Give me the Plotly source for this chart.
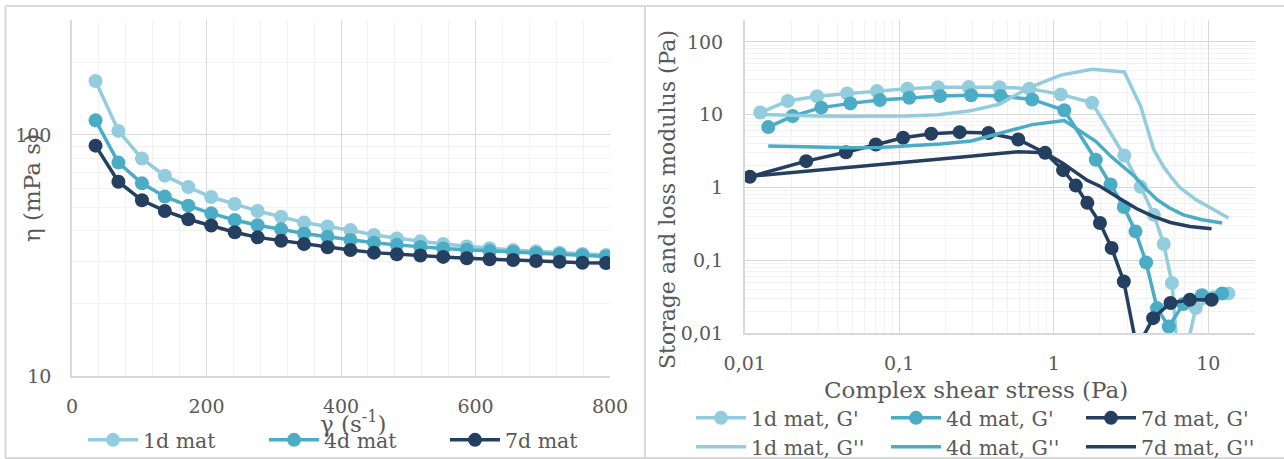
import plotly.graph_objects as go

# ---------------- data: left chart (viscosity curves) ----------------
shear_rate = [35, 69, 104, 138, 173, 207, 242, 276, 311, 345, 380, 414,
              449, 483, 518, 552, 587, 621, 656, 690, 725, 759, 794]
eta_1d = [167.5, 104, 79.8, 67.8, 60.8, 55.3, 51.7, 48.4, 45.8, 43.3, 41.7, 40.3,
          38.5, 37.2, 36.2, 35.3, 34.5, 33.9, 33.3, 32.9, 32.5, 32.1, 31.8]
eta_4d = [115, 76.8, 63.0, 55.5, 50.9, 47.3, 44.4, 42.2, 40.6, 39.0, 37.8, 36.7,
          35.7, 35.0, 34.3, 33.8, 33.4, 33.0, 32.7, 32.3, 32.0, 31.7, 31.3]
eta_7d = [90.3, 64.0, 53.6, 48.4, 44.7, 42.1, 39.5, 37.6, 36.4, 35.3, 34.2, 33.3,
          32.5, 32.0, 31.6, 31.2, 30.8, 30.5, 30.3, 30.0, 29.8, 29.5, 29.4]
left_names = ["1d mat", "4d mat", "7d mat"]

# ---------------- data: right chart (amplitude sweep) ----------------
stress_1d = [0.0126, 0.019, 0.0294, 0.046, 0.0718, 0.113, 0.178, 0.282, 0.445, 0.694, 1.11,
             1.77, 2.86, 3.65, 4.44, 5.15, 5.82, 6.53, 8.3, 10.8, 13.5]
gp_1d = [10.7, 15.4, 17.9, 19.5, 21.1, 22.8, 23.8, 24.0, 23.8, 22.8, 19.0,
         14.6, 2.75, 1.02, 0.42, 0.167, 0.0485, 0.0023, 0.022, 0.031, 0.035]
gpp_1d = [10.1, 9.8, 9.6, 9.5, 9.5, 9.6, 10.0, 11.2, 13.9, 23.6, 35.0,
          42.0, 38.6, 13.1, 3.3, 1.9, 1.35, 1.0, 0.68, 0.49, 0.38]

stress_4d = [0.0142, 0.0204, 0.0313, 0.0483, 0.0749, 0.116, 0.184, 0.292, 0.453, 0.724, 1.17,
             1.87, 2.33, 2.84, 3.38, 3.96, 4.66, 5.55, 6.9, 9.1, 12.3]
gp_4d = [6.75, 9.57, 12.5, 14.3, 15.9, 17.1, 18.0, 18.5, 18.0, 16.2, 11.5,
         2.4, 1.10, 0.54, 0.249, 0.093, 0.022, 0.0123, 0.025, 0.033, 0.035]
gpp_4d = [3.7, 3.65, 3.5, 3.5, 3.55, 3.7, 3.95, 4.35, 5.6, 7.3, 8.3,
          4.3, 2.7, 1.9, 1.38, 0.95, 0.68, 0.53, 0.42, 0.36, 0.325]

stress_7d = [0.0108, 0.025, 0.0452, 0.0705, 0.106, 0.161, 0.246, 0.378, 0.589, 0.879, 1.15,
             1.39, 1.65, 1.99, 2.37, 2.84, 3.45, 4.4, 5.69, 7.6, 10.5]
gp_7d = [1.4, 2.3, 3.05, 3.9, 4.82, 5.47, 5.75, 5.6, 4.57, 2.99, 1.73,
         1.06, 0.614, 0.325, 0.147, 0.051, 0.0062, 0.016, 0.0258, 0.0286, 0.0286]
gpp_7d = [1.42, 1.66, 1.86, 2.03, 2.2, 2.39, 2.6, 2.83, 3.1, 3.0, 2.13,
          1.61, 1.25, 1.04, 0.82, 0.65, 0.51, 0.40, 0.33, 0.29, 0.27]

right_names_gp = ["1d mat, G'", "4d mat, G'", "7d mat, G'"]
right_names_gpp = ["1d mat, G''", "4d mat, G''", "7d mat, G''"]

# tick labels
left_xticks = [0, 200, 400, 600, 800]
left_yticks = [10, 100]
right_xticks = [0.01, 0.1, 1, 10]
right_xticktext = ["0,01", "0,1", "1", "10"]
right_yticks = [0.01, 0.1, 1, 10, 100]
right_yticktext = ["0,01", "0,1", "1", "10", "100"]

# ---------------- styling ----------------
W, H = 1284, 459
colors = ["#93CDDD", "#4BACC6", "#243F60"]
FONT = "DejaVu Serif"
TXT = "#595959"
MAJOR = "#D9D9D9"
MINOR = "#F2F2F2"


def fx(px):
    return px / W


def fy(py):
    return 1 - py / H


fig = go.Figure()

# left chart
for name, ys, c in zip(left_names, [eta_1d, eta_4d, eta_7d], colors):
    fig.add_trace(go.Scatter(x=shear_rate, y=ys, name=name, mode="lines+markers",
                             line=dict(color=c, width=3.5), marker=dict(color=c, size=14),
                             xaxis="x", yaxis="y", legend="legend"))

# right chart: G' with markers
for name, xs, ys, c in zip(right_names_gp, [stress_1d, stress_4d, stress_7d],
                           [gp_1d, gp_4d, gp_7d], colors):
    fig.add_trace(go.Scatter(x=xs, y=ys, name=name, mode="lines+markers",
                             line=dict(color=c, width=3.5), marker=dict(color=c, size=14),
                             xaxis="x2", yaxis="y2", legend="legend2"))
# right chart: G'' lines
for name, xs, ys, c in zip(right_names_gpp, [stress_1d, stress_4d, stress_7d],
                           [gpp_1d, gpp_4d, gpp_7d], colors):
    fig.add_trace(go.Scatter(x=xs, y=ys, name=name, mode="lines",
                             line=dict(color=c, width=3.5),
                             xaxis="x2", yaxis="y2", legend="legend3"))

tickfont = dict(family=FONT, size=19, color=TXT)

minor_left_y = [20, 30, 40, 50, 60, 70, 80, 90, 200, 300]
minor_log_x = [m * d for d in [0.01, 0.1, 1] for m in range(2, 10)] + [20]
minor_log_y = [m * d for d in [0.01, 0.1, 1, 10] for m in range(2, 10)] + [200]

common = dict(showgrid=True, gridcolor=MAJOR, gridwidth=1, zeroline=False,
              showline=True, linecolor=MAJOR, linewidth=1.5, ticks="",
              tickfont=tickfont, automargin=False)

legend_common = dict(orientation="h", xanchor="left", yanchor="middle",
                     entrywidthmode="pixels", itemwidth=50,
                     font=dict(family=FONT, size=20.5, color=TXT),
                     bgcolor="rgba(0,0,0,0)", borderwidth=0)

fig.update_layout(
    width=W, height=H, autosize=False,
    margin=dict(l=0, r=0, t=0, b=0, pad=0, autoexpand=False),
    paper_bgcolor="white", plot_bgcolor="white",
    font=dict(family=FONT, color=TXT),
    xaxis=dict(domain=[fx(72), fx(610)], range=[0, 800], tickvals=left_xticks,
               anchor="y", ticklabelstandoff=12,
               minor=dict(dtick=40, showgrid=True, gridcolor=MINOR), **common),
    yaxis=dict(domain=[fy(376), fy(20)], type="log", range=[1, 2.4771], tickvals=left_yticks,
               anchor="x", ticklabelstandoff=15,
               minor=dict(tickvals=minor_left_y, showgrid=True, gridcolor=MINOR), **common),
    xaxis2=dict(domain=[fx(744.7), fx(1254.8)], type="log", range=[-2, 1.30103],
                tickvals=right_xticks, ticktext=right_xticktext, anchor="y2",
                ticklabelstandoff=12,
                minor=dict(tickvals=minor_log_x, showgrid=True, gridcolor=MINOR), **common),
    yaxis2=dict(domain=[fy(333), fy(20)], type="log", range=[-2, 2.30103],
                tickvals=right_yticks, ticktext=right_yticktext, anchor="x2",
                ticklabelstandoff=16,
                minor=dict(tickvals=minor_log_y, showgrid=True, gridcolor=MINOR), **common),
    legend=dict(x=fx(83), y=fy(440), entrywidth=116, **legend_common),
    legend2=dict(x=fx(691), y=fy(418), entrywidth=130, **legend_common),
    legend3=dict(x=fx(691), y=fy(447), entrywidth=130, **legend_common),
)

# axis titles as annotations
ann = [
    dict(text="η (mPa s)", x=fx(32), y=fy(188), textangle=-90, size=23),
    dict(text="γ (s<sup>-1</sup>)", x=fx(353), y=fy(422), textangle=0, size=23),
    dict(text="Complex shear stress (Pa)", x=fx(976), y=fy(390), textangle=0, size=23),
    dict(text="Storage and loss modulus (Pa)", x=fx(667), y=fy(200), textangle=-90, size=22),
]
for a in ann:
    fig.add_annotation(text=a["text"], x=a["x"], y=a["y"], xref="paper", yref="paper",
                       xanchor="center", yanchor="middle", showarrow=False,
                       textangle=a["textangle"],
                       font=dict(family=FONT, size=a["size"], color=TXT))

# chart frames
frame = dict(color=MAJOR, width=2)
for x0, y0, x1, y1 in [(5, 6, 1284, 6), (5.5, 6, 5.5, 458), (645, 6, 645, 458), (5, 458, 1284, 458)]:
    fig.add_shape(type="line", xref="paper", yref="paper",
                  x0=fx(x0), y0=fy(y0), x1=fx(x1), y1=fy(y1), line=frame, layer="below")

fig.write_html("out.html")
